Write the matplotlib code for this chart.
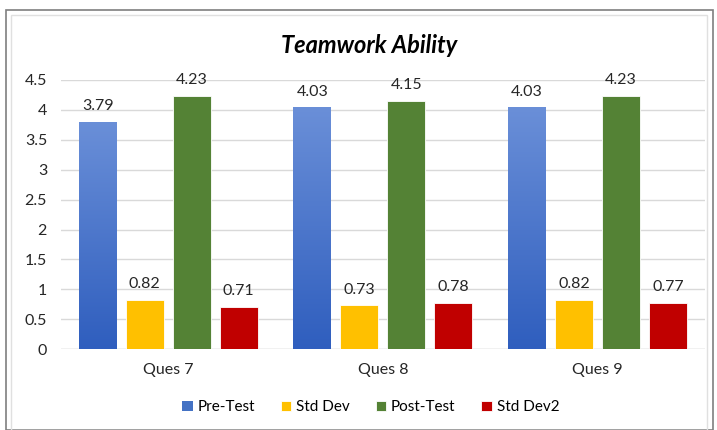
import numpy as np
import matplotlib.pyplot as plt
from matplotlib.patches import Rectangle
from matplotlib.colors import LinearSegmentedColormap

plt.rcParams['font.family'] = ['Lato', 'DejaVu Sans']

categories = ['Ques 7', 'Ques 8', 'Ques 9']
series = ['Pre-Test', 'Std Dev', 'Post-Test', 'Std Dev2']
pre_test = [3.79, 4.03, 4.03]
std_dev = [0.82, 0.73, 0.82]
post_test = [4.23, 4.15, 4.23]
std_dev2 = [0.71, 0.78, 0.77]

values = [pre_test, std_dev, post_test, std_dev2]
colors = ['#4472C4', '#FFC000', '#548235', '#C00000']

fig = plt.figure(figsize=(7.17, 4.3), dpi=100)
ax = fig.add_axes([0.085, 0.188, 0.898, 0.626])

x = np.arange(len(categories))
width = 0.177
step = 0.219
offsets = (np.arange(4) - 1.5) * step

# blue gradient, lighter at top
grad = np.linspace(0, 1, 256).reshape(-1, 1)
cmap = LinearSegmentedColormap.from_list('bl', ['#2F5EBE', '#6A8FD8'])

for i, (vals, col) in enumerate(zip(values, colors)):
    bars = ax.bar(x + offsets[i], vals, width, color=col, label=series[i],
                  edgecolor='white' if i else 'none', linewidth=0.6, zorder=3)
    if i == 0:
        for b in bars:
            bx, bw, bh = b.get_x(), b.get_width(), b.get_height()
            b.set_facecolor('none')
            ax.imshow(grad, cmap=cmap, extent=[bx, bx + bw, 0, bh],
                      origin='lower', aspect='auto', zorder=2.9,
                      interpolation='bilinear')
    for b, v in zip(bars, vals):
        ax.text(b.get_x() + b.get_width() / 2, v + 0.15, f'{v:.2f}',
                ha='center', va='bottom', fontsize=11.5, color='#262626')

ax.set_xlim(-0.5, 2.5)
ax.set_ylim(0, 4.5)
ax.set_yticks(np.arange(0, 4.51, 0.5))
ax.set_yticklabels(['0', '0.5', '1', '1.5', '2', '2.5', '3', '3.5', '4', '4.5'])
ax.set_xticks(x)
ax.set_xticklabels(categories)
ax.tick_params(axis='both', length=0, labelsize=11.5, colors='#262626')
ax.tick_params(axis='x', pad=10)
ax.tick_params(axis='y', pad=10)
ax.grid(axis='y', color='#D9D9D9', linewidth=1, zorder=0)
for s in ax.spines.values():
    s.set_visible(False)
ax.axhline(0, color='#D9D9D9', linewidth=1, zorder=1)

fig.text(0.515, 0.895, 'Teamwork Ability', ha='center', va='center',
         fontsize=17, fontweight='bold', fontstyle='italic')

leg = fig.legend(loc='center', bbox_to_anchor=(0.517, 0.053), ncol=4,
                 frameon=False, fontsize=11, handlelength=0.7,
                 handleheight=0.7, columnspacing=1.7, handletextpad=0.3)
leg.legend_handles[0].set_facecolor('#4472C4')

fig.patches.append(Rectangle((0.009, 0.0), 0.985, 0.977, transform=fig.transFigure,
                             fill=False, edgecolor='#7F7F7F', linewidth=1.2))
fig.patches.append(Rectangle((0.016, 0.0), 0.97, 0.965, transform=fig.transFigure,
                             fill=False, edgecolor='#E0E0E0', linewidth=1))

fig.savefig('out.png', dpi=100)
